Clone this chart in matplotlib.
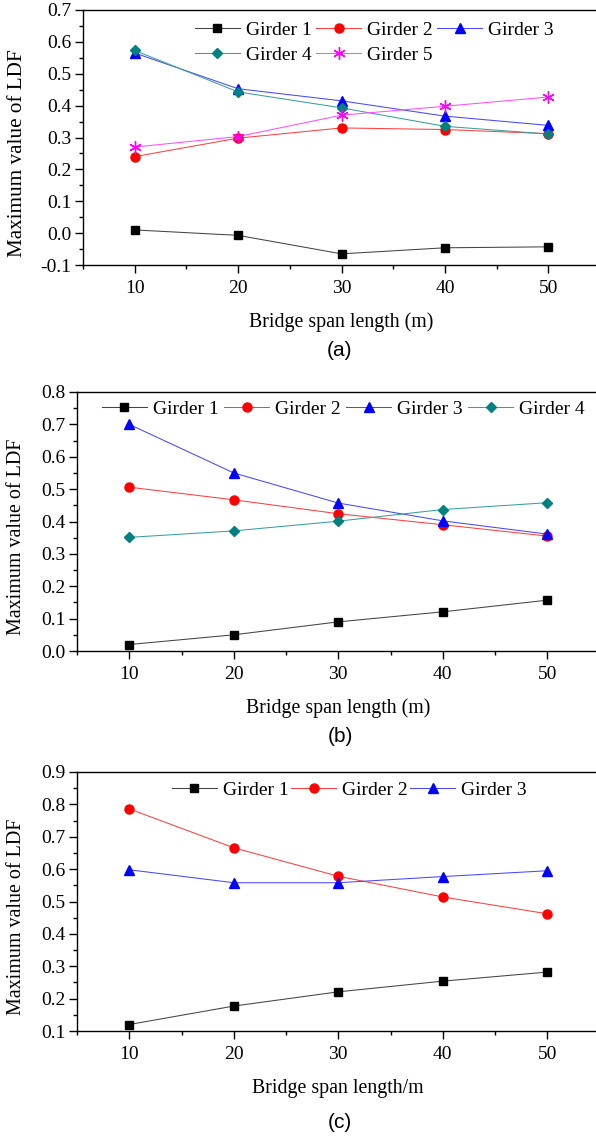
import matplotlib
matplotlib.use('Agg')
import matplotlib.pyplot as plt
from matplotlib.ticker import MultipleLocator, FuncFormatter

# ---------------- data ----------------
span = [10, 20, 30, 40, 50]

a_girder1 = [0.010, -0.007, -0.065, -0.046, -0.043]
a_girder2 = [0.240, 0.298, 0.330, 0.325, 0.312]
a_girder3 = [0.565, 0.453, 0.415, 0.367, 0.338]
a_girder4 = [0.573, 0.443, 0.393, 0.335, 0.311]
a_girder5 = [0.270, 0.303, 0.370, 0.398, 0.427]

b_girder1 = [0.020, 0.050, 0.090, 0.121, 0.157]
b_girder2 = [0.506, 0.467, 0.424, 0.390, 0.355]
b_girder3 = [0.700, 0.550, 0.457, 0.402, 0.361]
b_girder4 = [0.351, 0.371, 0.401, 0.437, 0.458]

c_girder1 = [0.120, 0.177, 0.221, 0.254, 0.282]
c_girder2 = [0.786, 0.666, 0.578, 0.514, 0.462]
c_girder3 = [0.598, 0.558, 0.558, 0.577, 0.595]

labels = ["Girder 1", "Girder 2", "Girder 3", "Girder 4", "Girder 5"]
y_label = "Maximum value of LDF"
x_labels = ["Bridge span length (m)", "Bridge span length (m)", "Bridge span length/m"]
panel_tags = ["(a)", "(b)", "(c)"]

# ---------------- styles ----------------
styles = {
    "Girder 1": dict(color="black", line="#444444", marker="s", ms=5.5),
    "Girder 2": dict(color="#FF0000", line="#FF4040", marker="o", ms=6.5),
    "Girder 3": dict(color="#0000FF", line="#4848FF", marker="^", ms=7.5),
    "Girder 4": dict(color="#008080", line="#3A9E9E", marker="D", ms=5.5),
    "Girder 5": dict(color="#FF00FF", line="#FF50FF", marker=(6, 2, 0), ms=9),
}

SERIF = "Liberation Serif"
SANS = "Liberation Sans"
W, H = 596, 1138

fig = plt.figure(figsize=(W / 100, H / 100), dpi=100)


def fx(px):
    return px / W


def fy(py):
    return 1 - py / H


def make_axes(left, right, top, bottom):
    return fig.add_axes([fx(left), fy(bottom), fx(right) - fx(left), fy(top) - fy(bottom)])


def style_axes(ax, ylo, yhi):
    ax.set_xlim(5, 55)
    ax.set_ylim(ylo, yhi)
    ax.xaxis.set_major_locator(MultipleLocator(10))
    ax.xaxis.set_minor_locator(MultipleLocator(5))
    ax.yaxis.set_major_locator(MultipleLocator(0.1))
    ax.yaxis.set_minor_locator(MultipleLocator(0.05))
    ax.yaxis.set_major_formatter(FuncFormatter(lambda v, p: f"{round(v, 1) + 0.0:.1f}"))
    ax.tick_params(which="both", direction="out", top=False, right=False, width=1.0)
    ax.tick_params(which="major", length=5.5)
    ax.tick_params(which="minor", length=3.2)
    ax.tick_params(axis="y", pad=3)
    ax.tick_params(axis="x", pad=5.5)
    for lab in ax.get_xticklabels() + ax.get_yticklabels():
        lab.set_fontfamily(SERIF)
        lab.set_fontsize(14)
    for s in ax.spines.values():
        s.set_linewidth(1.0)
    ax.spines["right"].set_visible(False)


def plot_series(ax, data):
    handles = {}
    for name, vals in data:
        st = styles[name]
        (h,) = ax.plot(span, vals, color=st["line"], lw=0.75, marker=st["marker"],
                       ms=st["ms"], mfc=st["color"], mec=st["color"], mew=1.0,
                       label=name, clip_on=False)
        handles[name] = h
    return handles


legend_kw = dict(frameon=False, borderpad=0, borderaxespad=0, handlelength=2.3,
                 handletextpad=0.3, labelspacing=0.35,
                 prop={"family": SERIF, "size": 14}, bbox_transform=fig.transFigure,
                 loc="center left")

# ---------------- panel (a) ----------------
axa = make_axes(83, 600, 10, 265)
ha = plot_series(axa, [(labels[0], a_girder1), (labels[1], a_girder2), (labels[2], a_girder3),
                       (labels[3], a_girder4), (labels[4], a_girder5)])
style_axes(axa, -0.1, 0.7)
order = ["Girder 1", "Girder 4", "Girder 2", "Girder 5", "Girder 3"]
axa.legend([ha[k] for k in order], order, ncol=3, columnspacing=0.25,
           bbox_to_anchor=(fx(195), fy(42.5)), **legend_kw)

# ---------------- panel (b) ----------------
axb = make_axes(77, 599.5, 392, 651)
hb = plot_series(axb, [(labels[0], b_girder1), (labels[1], b_girder2), (labels[2], b_girder3),
                       (labels[3], b_girder4)])
style_axes(axb, 0.0, 0.8)
axb.legend([hb[k] for k in labels[:4]], labels[:4], ncol=4, columnspacing=0.3,
           bbox_to_anchor=(fx(102), fy(409)), **legend_kw)

# ---------------- panel (c) ----------------
axc = make_axes(77, 599.5, 772, 1031)
hc = plot_series(axc, [(labels[0], c_girder1), (labels[1], c_girder2), (labels[2], c_girder3)])
style_axes(axc, 0.1, 0.9)
axc.legend([hc[k] for k in labels[:3]], labels[:3], ncol=3, columnspacing=0.15,
           bbox_to_anchor=(fx(172), fy(790)), **legend_kw)

# ---------------- labels ----------------
ylab_pos = [(18, 153, 15.2), (17, 537, 14.4), (17, 917, 14.4)]
for (x, y, s) in ylab_pos:
    fig.text(fx(x), fy(y), y_label, rotation=90, ha="center", va="center",
             fontfamily=SERIF, fontsize=s)

xlab_pos = [(341, 322), (338, 708), (338, 1088)]
for txt, (x, y) in zip(x_labels, xlab_pos):
    fig.text(fx(x), fy(y), txt, ha="center", va="center", fontfamily=SERIF, fontsize=14.3)

tag_pos = [(340, 350), (340, 737), (340, 1122)]
for txt, (x, y) in zip(panel_tags, tag_pos):
    fig.text(fx(x), fy(y), txt, ha="center", va="center", fontfamily=SANS, fontsize=15)

fig.savefig("out.png", dpi=100)
